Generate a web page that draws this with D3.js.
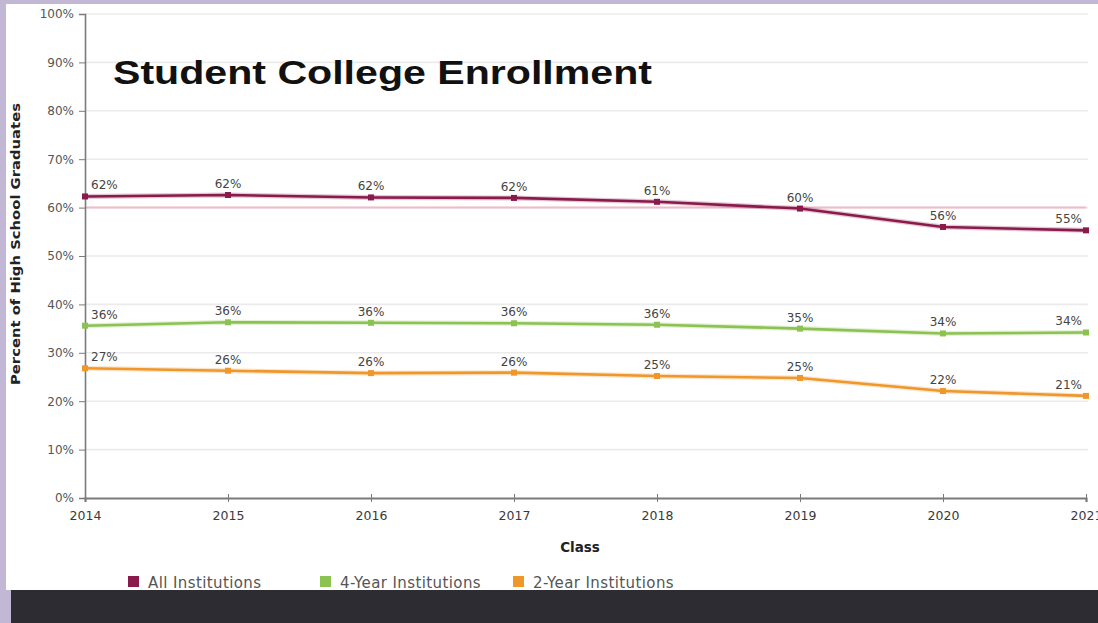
<!DOCTYPE html>
<html><head><meta charset="utf-8">
<script src="https://cdn.jsdelivr.net/npm/d3@7"></script>
<style>
html,body{margin:0;padding:0;background:#c2b8d6;}
svg{display:block;}
</style></head>
<body>
<svg id="chart" width="1098" height="623"></svg>
<script>
const years = [2014, 2015, 2016, 2017, 2018, 2019, 2020, 2021];
const allInstitutions = [62.3, 62.6, 62.1, 62.0, 61.2, 59.8, 56.0, 55.3];
const fourYear = [35.6, 36.3, 36.2, 36.1, 35.8, 35.0, 34.0, 34.2];
const twoYear = [26.8, 26.3, 25.8, 25.9, 25.2, 24.8, 22.1, 21.1];
const allLabels = ["62%", "62%", "62%", "62%", "61%", "60%", "56%", "55%"];
const fourLabels = ["36%", "36%", "36%", "36%", "36%", "35%", "34%", "34%"];
const twoLabels = ["27%", "26%", "26%", "26%", "25%", "25%", "22%", "21%"];
const seriesNames = ["All Institutions", "4-Year Institutions", "2-Year Institutions"];
const yTicks = [0, 10, 20, 30, 40, 50, 60, 70, 80, 90, 100];
const referenceValue = 60;

const colors = ["#8a1a4c", "#8cc252", "#f0972c"];
const series = [
  {name: seriesNames[0], values: allInstitutions, labels: allLabels, color: colors[0]},
  {name: seriesNames[1], values: fourYear, labels: fourLabels, color: colors[1]},
  {name: seriesNames[2], values: twoYear, labels: twoLabels, color: colors[2]}
];

const svg = d3.select("#chart");
// panels
svg.append("rect").attr("x", 6).attr("y", 4).attr("width", 1092).attr("height", 586).attr("fill", "#ffffff");
svg.append("rect").attr("x", 11).attr("y", 590).attr("width", 1087).attr("height", 33).attr("fill", "#2e2c33");

const x = d3.scaleLinear().domain([2014, 2021]).range([85, 1086]);
const y = d3.scaleLinear().domain([0, 100]).range([498, 14]);

// gridlines
svg.append("g").selectAll("line").data(yTicks.filter(d => d > 0)).join("line")
  .attr("x1", 85).attr("x2", 1088)
  .attr("y1", d => y(d)).attr("y2", d => y(d))
  .attr("stroke", "#ebebeb").attr("stroke-width", 1.6);

// reference line
svg.append("line").attr("x1", 85).attr("x2", 1086)
  .attr("y1", y(referenceValue)).attr("y2", y(referenceValue))
  .attr("stroke", "#f2b9c6").attr("stroke-width", 2);

// y axis
const yAxis = d3.axisLeft(y).tickValues(yTicks).tickFormat(d => d + "%").tickSize(6).tickPadding(5);
const gy = svg.append("g").attr("transform", "translate(85,0)").call(yAxis);
gy.select(".domain").attr("stroke", "#7a7a7a").attr("stroke-width", 1.6);
gy.selectAll(".tick line").attr("stroke", "#7a7a7a");
gy.selectAll("text").attr("fill", "#555").attr("font-family", "DejaVu Sans").attr("font-size", 12);

// x axis
const xAxis = d3.axisBottom(x).tickValues(years).tickFormat(d3.format("d")).tickSize(4).tickPadding(9);
const gx = svg.append("g").attr("transform", "translate(0,498)").call(xAxis);
gx.select(".domain").attr("stroke", "#7a7a7a").attr("stroke-width", 2.2);
gx.selectAll(".tick line").attr("stroke", "#7a7a7a").attr("y1", -4);
gx.selectAll("text").attr("fill", "#3a3a3a").attr("font-family", "DejaVu Sans").attr("font-size", 12.5);

// lines
const line = d3.line().x((d, i) => x(years[i])).y(d => y(d));
series.forEach(s => {
  svg.append("path").datum(s.values).attr("d", line)
    .attr("fill", "none").attr("stroke", s.color).attr("stroke-opacity", 0.25).attr("stroke-width", 5);
  svg.append("path").datum(s.values).attr("d", line)
    .attr("fill", "none").attr("stroke", s.color).attr("stroke-width", 2.6);
  svg.append("g").selectAll("rect").data(s.values).join("rect")
    .attr("x", (d, i) => x(years[i]) - 3).attr("y", d => y(d) - 3)
    .attr("width", 6).attr("height", 6).attr("fill", s.color);
  svg.append("g").selectAll("text").data(s.values).join("text")
    .attr("x", (d, i) => i === 0 ? x(years[i]) + 6 : (i === years.length - 1 ? x(years[i]) - 4 : x(years[i])))
    .attr("y", d => y(d) - 7)
    .attr("text-anchor", (d, i) => i === 0 ? "start" : (i === years.length - 1 ? "end" : "middle"))
    .attr("font-family", "DejaVu Sans").attr("font-size", 12).attr("fill", "#444")
    .text((d, i) => s.labels[i]);
});

// title
svg.append("text").attr("x", 113).attr("y", 84)
  .attr("font-family", "Liberation Sans, Arial, sans-serif").attr("font-weight", "bold")
  .attr("font-size", 33).attr("fill", "#111").attr("textLength", 539)
  .attr("lengthAdjust", "spacingAndGlyphs")
  .text("Student College Enrollment");

// axis titles
svg.append("text").attr("transform", "translate(20,244) rotate(-90)")
  .attr("text-anchor", "middle").attr("font-family", "DejaVu Sans").attr("font-weight", "bold")
  .attr("font-size", 13).attr("fill", "#222").attr("textLength", 282)
  .attr("lengthAdjust", "spacingAndGlyphs")
  .text("Percent of High School Graduates");
svg.append("text").attr("x", 580).attr("y", 552).attr("text-anchor", "middle")
  .attr("font-family", "DejaVu Sans").attr("font-weight", "bold").attr("font-size", 13.5)
  .attr("fill", "#222").text("Class");

// legend
const legendX = [128, 320, 513];
const lg = svg.append("g").selectAll("g").data(series).join("g")
  .attr("transform", (d, i) => `translate(${legendX[i]},576)`);
lg.append("rect").attr("width", 11).attr("height", 11).attr("fill", d => d.color);
lg.append("text").attr("x", 20).attr("y", 12).attr("font-family", "DejaVu Sans")
  .attr("font-size", 15).attr("letter-spacing", 0.4).attr("fill", "#555").text(d => d.name);
</script>
</body></html>
